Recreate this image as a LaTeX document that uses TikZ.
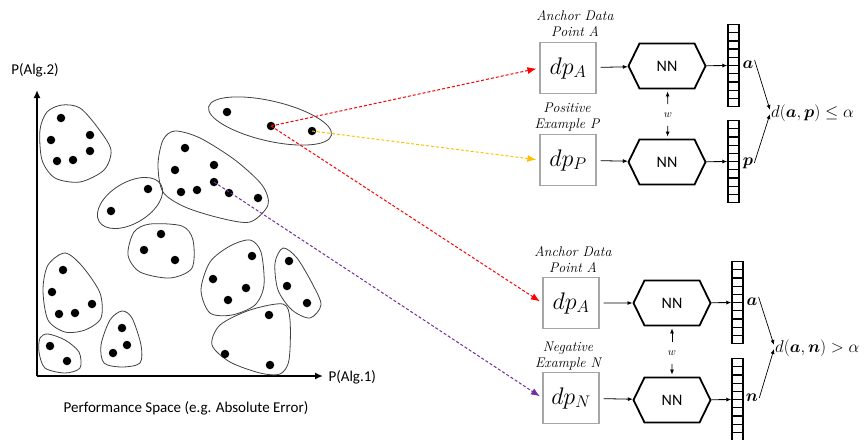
\documentclass[tikz,border=0pt]{standalone}
\usepackage{fix-cm}
\usepackage{fontspec}
\setsansfont{Carlito}
\usepackage{bm}
\usetikzlibrary{arrows.meta, positioning, shapes.symbols, calc}

\definecolor{dashred}{HTML}{FF0000}
\definecolor{dashyellow}{HTML}{FFC000}
\definecolor{dashpurple}{HTML}{7030A0}
\definecolor{blobline}{HTML}{404040}

\begin{document}
\begin{tikzpicture}[x=1pt, y=-1pt,
  every node/.style={align=center},
  dot/.style={circle, fill=black, inner sep=0pt, minimum size=8.5pt},
  blob/.style={draw=blobline, line width=0.8pt},
  axislab/.style={font=\sffamily\fontsize{15}{18}\selectfont},
  inbox/.style={draw=gray!70, line width=1.2pt, minimum width=56pt, minimum height=51pt,
                inner sep=0pt, font=\fontsize{24}{28}\selectfont},
  nnbox/.style={signal, signal to=east and west, signal pointer angle=128, draw,
                line width=1.8pt, minimum width=77pt, minimum height=45pt, inner sep=0pt,
                font=\sffamily\fontsize{16}{19}\selectfont},
  vec/.style={draw, line width=1.5pt, minimum width=11pt, minimum height=82pt, inner sep=0pt,
              path picture={\foreach \k in {1,...,9}
                \draw[line width=1.2pt]
                  ($(path picture bounding box.north west)!\k/10!(path picture bounding box.south west)$) --
                  ($(path picture bounding box.north east)!\k/10!(path picture bounding box.south east)$);}},
  tag/.style={font=\itshape\fontsize{14}{16}\selectfont},
  emb/.style={inner sep=1pt, font=\fontsize{17}{20}\selectfont},
  shared/.style={font=\fontsize{11}{12}\selectfont},
  feed/.style={-{Latex[length=5pt,width=4pt]}, line width=0.8pt},
  pick/.style={line width=1pt, dash pattern=on 3pt off 2pt, -{Latex[length=9pt,width=7pt]}, shorten >=3pt},
]
  \useasboundingbox (0,0) rectangle (864,439);

  % Axes
  \draw[line width=2pt, -{Latex[length=8pt,width=7pt]}] (37,376) -- (37,90);
  \draw[line width=2pt, -{Latex[length=8pt,width=7pt]}] (37,376) -- (323,376);
  \node[axislab] (ylab) at (35,70) {P(Alg.2)};
  \node[axislab, anchor=west] (xlab) at (325,377) {P(Alg.1)};
  \node[axislab] (space) at (186,408) {Performance Space (e.g. Absolute Error)};

  % Clusters
  \draw[blob, rotate around={-13:(270,121)}] (270,121) ellipse [x radius=63, y radius=20];
  \draw[blob, rotate around={31:(130,203)}] (130,203) ellipse [x radius=36, y radius=20.5];
  \draw[blob] plot[smooth cycle] coordinates {(62,105) (80,108) (98,128) (111,150) (104,170) (80,182) (55,178) (42,160) (40,130) (47,112)};
  \draw[blob] plot[smooth cycle] coordinates {(175,131) (200,138) (235,160) (262,185) (268,205) (250,222) (220,218) (185,207) (163,192) (158,165) (163,140)};
  \draw[blob] plot[smooth cycle] coordinates {(150,224) (182,226) (193,240) (192,268) (170,278) (140,272) (128,255) (134,232)};
  \draw[blob] plot[smooth cycle] coordinates {(65,253) (82,266) (100,293) (101,318) (85,330) (65,332) (48,320) (43,290) (48,265)};
  \draw[blob] plot[smooth cycle] coordinates {(48,334) (65,340) (79,352) (80,368) (65,373) (45,368) (39,352) (40,338)};
  \draw[blob] plot[smooth cycle] coordinates {(122,311) (132,318) (141,345) (140,363) (122,367) (104,363) (101,345) (110,320)};
  \draw[blob] plot[smooth cycle] coordinates {(250,240) (261,252) (264,285) (255,305) (232,315) (210,313) (201,290) (210,262) (230,246)};
  \draw[blob] plot[smooth cycle] coordinates {(283,248) (297,258) (313,285) (321,305) (310,318) (292,310) (278,290) (275,263)};
  \draw[blob] plot[smooth cycle] coordinates {(283,304) (290,320) (289,360) (280,374) (260,373) (230,362) (212,345) (220,325) (250,310)};

  % Points
  \node[dot] (tp1) at (227,112) {};
  \node[dot] (anchor) at (271,126) {};
  \node[dot] (positive) at (312,131) {};
  \node[dot] (negative) at (214,182) {};
  \foreach \p [count=\i] in {(185,148),(175,170),(214,165),(181,192),(197,190),(229,193),(258,198)}
    \node[dot] (big-\i) at \p {};
  \foreach \p [count=\i] in {(61,118),(51,140),(90,135),(57,161),(73,160),(90,151)}
    \node[dot] (tl-\i) at \p {};
  \foreach \p [count=\i] in {(148,189),(111,211)}
    \node[dot] (pair-\i) at \p {};
  \foreach \p [count=\i] in {(161,234),(144,250),(175,260)}
    \node[dot] (mid-\i) at \p {};
  \foreach \p [count=\i] in {(63,270),(52,292),(92,304),(59,314),(75,313)}
    \node[dot] (ll-\i) at \p {};
  \foreach \p [count=\i] in {(50,346),(67,361)}
    \node[dot] (bl-\i) at \p {};
  \foreach \p [count=\i] in {(122,328),(127,345),(113,353)}
    \node[dot] (tri-\i) at \p {};
  \foreach \p [count=\i] in {(252,256),(213,279),(246,288),(228,300)}
    \node[dot] (rm-\i) at \p {};
  \foreach \p [count=\i] in {(289,261),(287,286),(307,303)}
    \node[dot] (rr-\i) at \p {};
  \foreach \p [count=\i] in {(269,315),(225,354),(270,365)}
    \node[dot] (br-\i) at \p {};

  % Positive pair
  \node[tag] (labA1) at (575,24) {Anchor Data\\Point A};
  \node[inbox] (dpA1) at (568,68) {$dp_A$};
  \node[nnbox] (nnA1) at (667,66) {NN};
  \node[vec] (vecA1) at (733.5,65.5) {};
  \node[emb] (ea1) at (748,65) {$\bm{a}$};
  \node[tag] (labP) at (567,117) {Positive\\Example P};
  \node[inbox] (dpP) at (568,160) {$dp_P$};
  \node[nnbox] (nnP) at (667,162) {NN};
  \node[vec] (vecP) at (733.5,161.5) {};
  \node[emb] (ep) at (748,163) {$\bm{p}$};
  \node[shared] (w1) at (668,115) {$w$};
  \node[emb, anchor=west] (dAP) at (770,113) {$d(\bm{a},\bm{p}) \leq \alpha$};

  % Negative pair
  \node[tag] (labA2) at (573,260) {Anchor Data\\Point A};
  \node[inbox] (dpA2) at (571,303) {$dp_A$};
  \node[nnbox] (nnA2) at (672,303) {NN};
  \node[vec] (vecA2) at (737.5,302.5) {};
  \node[emb] (ea2) at (752,302) {$\bm{a}$};
  \node[tag] (labN) at (568,356) {Negative\\Example N};
  \node[inbox] (dpN) at (571,398) {$dp_N$};
  \node[nnbox] (nnN) at (672,400) {NN};
  \node[vec] (vecN) at (737.5,399.5) {};
  \node[emb] (en) at (752,398) {$\bm{n}$};
  \node[shared] (w2) at (672,353) {$w$};
  \node[emb, anchor=west] (dAN) at (774,348) {$d(\bm{a},\bm{n}) > \alpha$};

  % Network arrows
  \foreach \a/\b/\c in {dpA1/nnA1/vecA1, dpP/nnP/vecP, dpA2/nnA2/vecA2, dpN/nnN/vecN} {
    \draw[feed, shorten <=4pt] (\a) -- (\b);
    \draw[feed] (\b) -- (\c);
  }
  \draw[feed, shorten <=5pt, shorten >=2pt] (w1) -- (nnA1);
  \draw[feed, shorten <=5pt, shorten >=2pt] (w1) -- (nnP);
  \draw[feed, shorten <=5pt, shorten >=2pt] (w2) -- (nnA2);
  \draw[feed, shorten <=5pt, shorten >=2pt] (w2) -- (nnN);
  \draw[feed, line width=0.7pt] (ea1.north east) -- ([yshift=3pt]dAP.west);
  \draw[feed, line width=0.7pt] (ep.east) -- ([yshift=-1pt]dAP.west);
  \draw[feed, line width=0.7pt] (ea2.north east) -- ([yshift=3pt]dAN.west);
  \draw[feed, line width=0.7pt] (en.east) -- ([yshift=-1pt]dAN.west);

  % Sampling arrows
  \draw[pick, dashred] (anchor.center) -- (dpA1.west);
  \draw[pick, dashyellow] (positive.center) -- (dpP.west);
  \draw[pick, dashred] (anchor.center) -- (dpA2.west);
  \draw[pick, dashpurple] (negative.center) -- (dpN.west);
\end{tikzpicture}
\end{document}
